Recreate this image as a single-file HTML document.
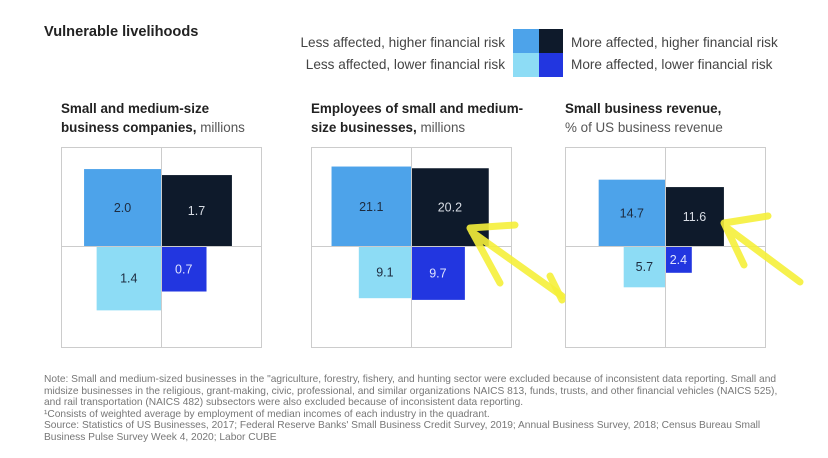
<!DOCTYPE html>
<html><head><meta charset="utf-8">
<style>
body{margin:0;width:828px;height:458px;background:#fff;font-family:"Liberation Sans",sans-serif;overflow:hidden;position:relative}
.t{position:absolute;white-space:nowrap}
</style></head>
<body>
<div class="t" style="left:44px;top:24px;font-size:14.6px;font-weight:bold;color:#222">Vulnerable livelihoods</div>
<div class="t" style="right:323px;top:35px;font-size:13.6px;color:#444">Less affected, higher financial risk</div>
<div class="t" style="right:323px;top:57px;font-size:13.6px;color:#444">Less affected, lower financial risk</div>
<div class="t" style="left:571px;top:35px;font-size:13.6px;color:#444">More affected, higher financial risk</div>
<div class="t" style="left:571px;top:57px;font-size:13.6px;color:#444">More affected, lower financial risk</div>
<div style="position:absolute;left:513px;top:29px;width:26px;height:24px;background:#4da3ea"></div>
<div style="position:absolute;left:539px;top:29px;width:24px;height:24px;background:#0e1a2b"></div>
<div style="position:absolute;left:513px;top:53px;width:26px;height:24px;background:#8ddcf5"></div>
<div style="position:absolute;left:539px;top:53px;width:24px;height:24px;background:#2236e0"></div>

<div class="t" style="left:61px;top:99px;font-size:13.4px;line-height:19px;color:#222"><b>Small and medium-size</b><br><b>business companies,</b> <span style="color:#555">millions</span></div>
<div class="t" style="left:311px;top:99px;font-size:13.4px;line-height:19px;color:#222"><b>Employees of small and medium-</b><br><b>size businesses,</b> <span style="color:#555">millions</span></div>
<div class="t" style="left:565px;top:99px;font-size:13.4px;line-height:19px;color:#222"><b>Small business revenue,</b><br><span style="color:#555">% of US business revenue</span></div>

<svg id="chart" width="828" height="458" style="position:absolute;left:0;top:0"></svg>

<div class="t" style="left:44px;top:374px;font-size:10.2px;line-height:11.6px;color:#777">Note: Small and medium-sized businesses in the "agriculture, forestry, fishery, and hunting sector were excluded because of inconsistent data reporting. Small and<br>midsize businesses in the religious, grant-making, civic, professional, and similar organizations NAICS 813, funds, trusts, and other financial vehicles (NAICS 525),<br>and rail transportation (NAICS 482) subsectors were also excluded because of inconsistent data reporting.<br>¹Consists of weighted average by employment of median incomes of each industry in the quadrant.<br>Source: Statistics of US Businesses, 2017; Federal Reserve Banks' Small Business Credit Survey, 2019; Annual Business Survey, 2018; Census Bureau Small<br>Business Pulse Survey Week 4, 2020; Labor CUBE</div>

<script>
const panels = ["companies","employees","revenue"];
const lessHigher = [2.0, 21.1, 14.7];
const moreHigher = [1.7, 20.2, 11.6];
const lessLower = [1.4, 9.1, 5.7];
const moreLower = [0.7, 9.7, 2.4];
const labels = [["2.0","1.7","1.4","0.7"],["21.1","20.2","9.1","9.7"],["14.7","11.6","5.7","2.4"]];

const NS="http://www.w3.org/2000/svg";
const svg=document.getElementById('chart');
const frameX=[61,311,565], frameY=147, frameS=200;
const scaleK=[54.4,17.3,17.3];
function side(p,v){return scaleK[p]*Math.sqrt(v);}
function mk(tag,attrs){const e=document.createElementNS(NS,tag);for(const k in attrs)e.setAttribute(k,attrs[k]);svg.appendChild(e);return e;}
const colors=["#4da3ea","#0e1a2b","#8ddcf5","#2236e0"];
const txtCol=["#1d2b3f","#d8dde5","#1d2b3f","#dfe4ff"];
const qn=["less-higher","more-higher","less-lower","more-lower"];
for(let p=0;p<3;p++){
  const x0=frameX[p], cx=x0+frameS/2, cy=frameY+99;
  const f=mk('rect',{x:x0+0.5,y:frameY+0.5,width:frameS,height:frameS,fill:'none',stroke:'#ccc','stroke-width':1});
  
  
  const vals=[lessHigher[p],moreHigher[p],lessLower[p],moreLower[p]];
  for(let q=0;q<4;q++){
    const s=side(p,vals[q]);
    const x=(q%2===0)?cx-s:cx;
    const y=(q<2)?cy-s:cy;
    const r=mk('rect',{x:x,y:y,width:s,height:s,fill:colors[q]});
    
    
    const t=mk('text',{x:x+s/2,y:y+s/2+4.5,'text-anchor':'middle','font-size':12.5,fill:txtCol[q],'font-family':'Liberation Sans, sans-serif'});
    t.textContent=labels[p][q];
    
    
  }
  const v=mk('line',{x1:cx+0.5,y1:frameY,x2:cx+0.5,y2:frameY+frameS,stroke:'#ccc','stroke-width':1});
  
  
  const h=mk('line',{x1:x0,y1:cy+0.5,x2:x0+frameS,y2:cy+0.5,stroke:'#ccc','stroke-width':1});
  
  
}
const a1=mk('path',{d:'M470 228 L515 225 M470 228 L500 283 M472 232 L562 296',stroke:'#f5f03a','stroke-width':7,fill:'none','stroke-linecap':'round',opacity:0.9});


const a2=mk('path',{d:'M724 223 L768 216 M724 223 L744 265 M726 227 L800 282 M550 276 L562 300',stroke:'#f5f03a','stroke-width':7,fill:'none','stroke-linecap':'round',opacity:0.9});


</script>
</body></html>
